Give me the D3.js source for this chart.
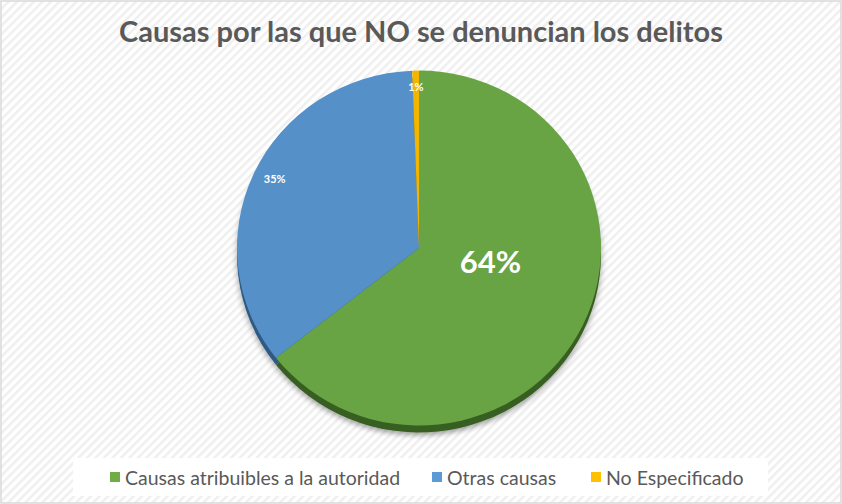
<!DOCTYPE html>
<html><head><meta charset="utf-8">
<script src="https://cdn.jsdelivr.net/npm/d3@7"></script>
<style>body{margin:0;background:#fff}svg{display:block}</style>
</head><body>
<script>
const title = "Causas por las que NO se denuncian los delitos";
const categories = ["Causas atribuibles a la autoridad", "Otras causas", "No Especificado"];
const values = [64.4, 35.0, 0.6];
const sliceColors = ["#68a444", "#5590c9", "#f2b600"];
const rimColors = ["#385f22", "#2f5a83", "#8a6a00"];
const legendColors = ["#70ad47", "#5b9bd5", "#ffc000"];

const W = 842, H = 504;
const svg = d3.select("body").append("svg").attr("width", W).attr("height", H);
const defs = svg.append("defs");
const pat = defs.append("pattern").attr("id", "hatch").attr("patternUnits", "userSpaceOnUse")
  .attr("width", 6).attr("height", 6).attr("patternTransform", "rotate(45)");
pat.append("rect").attr("width", 6).attr("height", 6).attr("fill", "#ffffff");
pat.append("rect").attr("x", 0).attr("width", 2.5).attr("height", 6).attr("fill", "#efefef");
const f = defs.append("filter").attr("id", "sh").attr("x", "-20%").attr("y", "-20%").attr("width", "140%").attr("height", "140%");
f.append("feDropShadow").attr("dx", 0).attr("dy", 3).attr("stdDeviation", 3).attr("flood-color", "#000").attr("flood-opacity", 0.35);

svg.append("rect").attr("x", 1).attr("y", 1).attr("width", W - 2).attr("height", H - 2)
  .attr("fill", "url(#hatch)").attr("stroke", "#d9d9d9").attr("stroke-width", 1.5);

svg.append("text").attr("x", 421).attr("y", 42).attr("text-anchor", "middle")
  .attr("font-family", "Lato, 'Open Sans', sans-serif").attr("font-weight", "bold")
  .attr("font-size", 29).attr("fill", "#595959").text(title);

const R = 182;
const pie = d3.pie().sort(null).value(d => d)(values);
const arc = d3.arc().innerRadius(0).outerRadius(R);
const cx = 419, cy = 248, sy = 0.975;

const rimG = svg.append("g").attr("transform", `translate(${cx},${cy + 7}) scale(1,${sy})`).attr("filter", "url(#sh)");
rimG.selectAll("path").data(pie).join("path").attr("d", arc).attr("fill", (d, i) => rimColors[i]);

const faceG = svg.append("g").attr("transform", `translate(${cx},${cy}) scale(1,${sy})`);
faceG.selectAll("path").data(pie).join("path").attr("d", arc).attr("fill", (d, i) => sliceColors[i]);

// label layout: [radius fraction, angle shift in degrees, font size]
const labelLayout = [[0.40, -15, 31], [0.885, 1.5, 11], [0.91, 0, 11]];
const lblG = svg.append("g").attr("transform", `translate(${cx},${cy})`);
lblG.selectAll("text").data(pie).join("text")
  .attr("x", (d, i) => { const a = (d.startAngle + d.endAngle) / 2 + labelLayout[i][1] * Math.PI / 180; return Math.sin(a) * R * labelLayout[i][0]; })
  .attr("y", (d, i) => { const a = (d.startAngle + d.endAngle) / 2 + labelLayout[i][1] * Math.PI / 180; return -Math.cos(a) * R * labelLayout[i][0] * sy; })
  .attr("text-anchor", "middle").attr("dominant-baseline", "central")
  .attr("font-family", "Lato, 'Open Sans', sans-serif").attr("font-weight", "bold")
  .attr("font-size", (d, i) => labelLayout[i][2]).attr("fill", "#ffffff")
  .text(d => Math.round(d.data) + "%");

// legend
svg.append("rect").attr("x", 73).attr("y", 458).attr("width", 695).attr("height", 38).attr("fill", "#ffffff");
const legX = [110, 432, 591];
const lg = svg.append("g").selectAll("g").data(categories).join("g").attr("transform", (d, i) => `translate(${legX[i]},477)`);
lg.append("rect").attr("x", 0).attr("y", -5).attr("width", 10).attr("height", 10).attr("fill", (d, i) => legendColors[i]);
lg.append("text").attr("x", 15).attr("y", 0).attr("dominant-baseline", "central")
  .attr("font-family", "Lato, 'Open Sans', sans-serif").attr("font-size", 19.5).attr("fill", "#595959").text(d => d);
</script>
</body></html>
